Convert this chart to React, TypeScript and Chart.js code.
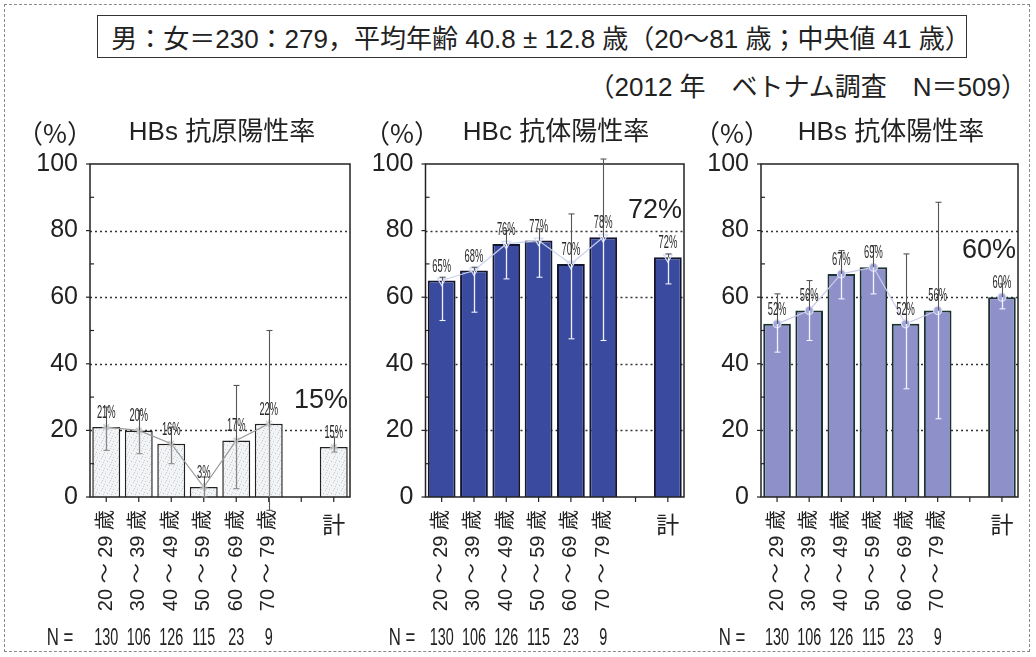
import React, { useEffect, useRef } from 'react';
import { Chart, registerables } from 'chart.js';

Chart.register(...registerables);

const W = 1036;
const H = 657;
const PLOT_TOP = 164;
const PLOT_BOTTOM = 497;

const LATIN = '"Liberation Sans", "Noto Sans CJK JP", sans-serif';
const CJK = '"Noto Sans CJK JP", "Liberation Sans", sans-serif';

// Age bands (a blank slot separates the age groups from the total)
const ageGroups = ['20 ～ 29 歳', '30 ～ 39 歳', '40 ～ 49 歳', '50 ～ 59 歳', '60 ～ 69 歳', '70 ～ 79 歳', '', '計'];
const sampleSizes = ['130', '106', '126', '115', '23', '9'];

// HBs antigen positivity (%), with confidence range
const hbsAgRate = [21, 20, 16, 3, 17, 22, null, 15];
const hbsAgLow = [14, 13, 10, 0, 2.5, -4, null, 13.5];
const hbsAgHigh = [27, 26, 21, 6, 33.5, 50, null, 18];

// HBc antibody positivity (%)
const hbcAbRate = [65, 68, 76, 77, 70, 78, null, 72];
const hbcAbLow = [53, 55.5, 65.5, 66, 47.5, 47, null, 64];
const hbcAbHigh = [66, 69, 80, 80.5, 85, 101.5, null, 73];

// HBs antibody positivity (%)
const hbsAbRate = [52, 56, 67, 69, 52, 56, null, 60];
const hbsAbLow = [43.5, 47, 59.5, 61, 32.5, 23.5, null, 56.5];
const hbsAbHigh = [61, 65, 74, 75.5, 73, 88.5, null, 64];

const gridValues = [20, 40, 60, 80];

type Panel = {
  title: string;
  rate: (number | null)[];
  low: (number | null)[];
  high: (number | null)[];
  left: number;
  right: number;
  titleX: number;
  pctX: number;
  nX: number;
  fill: string | 'stipple';
  border: string;
  borderWidth: number;
  errIn: string;
  errOut: string;
  line: string;
  pointStyle: string;
  pointRadius: number;
  pointRotation: number;
  pointBg: string;
  pointBorder: string;
};

const panels: Panel[] = [
  {
    title: 'HBs 抗原陽性率', rate: hbsAgRate, low: hbsAgLow, high: hbsAgHigh,
    left: 90, right: 350, titleX: 222, pctX: 55, nX: 60,
    fill: 'stipple', border: '#222', borderWidth: 1.5,
    errIn: '#8a8a8a', errOut: '#555', line: '#9a9a9a',
    pointStyle: 'star', pointRadius: 4, pointRotation: 0, pointBg: '#d0d0d0', pointBorder: '#c8c8c8',
  },
  {
    title: 'HBc 抗体陽性率', rate: hbcAbRate, low: hbcAbLow, high: hbcAbHigh,
    left: 425.5, right: 684, titleX: 556, pctX: 402, nX: 402,
    fill: '#3a4b9f', border: '#14162e', borderWidth: 2,
    errIn: '#eef1ff', errOut: '#555', line: '#c8d0ee',
    pointStyle: 'triangle', pointRadius: 5, pointRotation: 180, pointBg: 'rgba(0,0,0,0)', pointBorder: '#d4dbf5',
  },
  {
    title: 'HBs 抗体陽性率', rate: hbsAbRate, low: hbsAbLow, high: hbsAbHigh,
    left: 761, right: 1018, titleX: 891, pctX: 732, nX: 732,
    fill: '#8e91c9', border: '#1b3333', borderWidth: 2,
    errIn: '#f3f3ff', errOut: '#555', line: '#c9cbeb',
    pointStyle: 'circle', pointRadius: 4, pointRotation: 0, pointBg: '#a3a6dc', pointBorder: '#dcdef4',
  },
];

function stipplePattern(): CanvasPattern | string {
  const c = document.createElement('canvas');
  c.width = 8;
  c.height = 8;
  const g = c.getContext('2d');
  if (!g) return '#eef0f2';
  g.fillStyle = '#f1f3f5';
  g.fillRect(0, 0, 8, 8);
  g.fillStyle = '#c4cbd2';
  const dots = [[1, 1], [5, 2], [3, 5], [7, 6], [0, 4], [6, 0]];
  dots.forEach(([x, y]) => g.fillRect(x, y, 1, 1));
  const p = g.createPattern(c, 'repeat');
  return p || '#eef0f2';
}

function text(ctx: CanvasRenderingContext2D, s: string, x: number, y: number, font: string, color: string, align: CanvasTextAlign = 'center', scaleX = 1) {
  ctx.save();
  ctx.font = font;
  ctx.fillStyle = color;
  ctx.textAlign = align;
  ctx.textBaseline = 'middle';
  ctx.translate(x, y);
  ctx.scale(scaleX, 1);
  ctx.fillText(s, 0, 0);
  ctx.restore();
}

function line(ctx: CanvasRenderingContext2D, x1: number, y1: number, x2: number, y2: number, color: string, width: number) {
  ctx.save();
  ctx.strokeStyle = color;
  ctx.lineWidth = width;
  ctx.beginPath();
  ctx.moveTo(x1, y1);
  ctx.lineTo(x2, y2);
  ctx.stroke();
  ctx.restore();
}

function panelPlugin(p: Panel) {
  return {
    id: 'panelDecor',
    beforeDatasetsDraw(chart: any) {
      const { ctx, chartArea } = chart;
      const y = chart.scales.y;
      ctx.save();
      ctx.strokeStyle = '#333';
      ctx.lineWidth = 1.3;
      ctx.setLineDash([2, 3]);
      gridValues.forEach((v) => {
        const py = Math.round(y.getPixelForValue(v)) + 0.5;
        ctx.beginPath();
        ctx.moveTo(chartArea.left, py);
        ctx.lineTo(chartArea.right, py);
        ctx.stroke();
      });
      ctx.restore();
    },
    afterDatasetsDraw(chart: any) {
      const { ctx, chartArea } = chart;
      const xs = chart.scales.x;
      const ys = chart.scales.y;
      const { left, right, top, bottom } = chartArea;

      // plot frame
      ctx.save();
      ctx.strokeStyle = '#222';
      ctx.lineWidth = 1.5;
      ctx.strokeRect(left, top, right - left, bottom - top);
      ctx.restore();

      // y ticks: outward at labelled values, inward at the halves
      for (let v = 0; v <= 100; v += 10) {
        const py = ys.getPixelForValue(v);
        if (v % 20 === 0) line(ctx, left - 4, py, left, py, '#222', 1.2);
        else line(ctx, left, py, left + 4, py, '#222', 1.2);
      }
      // x ticks at category centres
      ageGroups.forEach((_, i) => {
        const px = xs.getPixelForValue(i);
        line(ctx, px, bottom, px, bottom + 5, '#222', 1.2);
      });

      // error bars
      p.rate.forEach((v, i) => {
        const lo = p.low[i];
        const hi = p.high[i];
        if (v == null || lo == null || hi == null) return;
        const px = Math.round(xs.getPixelForValue(i)) + 0.5;
        const pv = ys.getPixelForValue(v);
        const pLo = ys.getPixelForValue(lo);
        const pHi = ys.getPixelForValue(hi);
        const p0 = ys.getPixelForValue(0);
        const inTop = Math.max(pHi, pv);
        const inBottom = Math.min(pLo, p0);
        if (inBottom > inTop) line(ctx, px, inTop, px, inBottom, p.errIn, 1.3);
        if (pHi < pv) line(ctx, px, pHi, px, pv, p.errOut, 1.1);
        if (pLo > p0) line(ctx, px, p0, px, pLo, p.errOut, 1.1);
        line(ctx, px - 3, pHi, px + 3, pHi, pHi < pv ? p.errOut : p.errIn, 1.1);
        line(ctx, px - 3, pLo, px + 3, pLo, pLo > p0 ? p.errOut : p.errIn, 1.1);
      });

      // value labels above the bars
      p.rate.forEach((v, i) => {
        if (v == null) return;
        const px = xs.getPixelForValue(i);
        const py = ys.getPixelForValue(v) - 14;
        text(ctx, `${v}%`, px, py, `18px ${LATIN}`, '#2a2a2a', 'center', 0.52);
      });

      // overall rate, large
      const total = p.rate[p.rate.length - 1] as number;
      text(ctx, `${total}%`, right - 2, ys.getPixelForValue(total) - 47, `27px ${LATIN}`, '#222', 'right');

      // panel heading and unit
      text(ctx, p.title, p.titleX, 133, `26px ${LATIN}`, '#222');
      text(ctx, '（%）', p.pctX, 133, `26px ${CJK}`, '#222');

      // category labels
      ageGroups.forEach((lab, i) => {
        if (!lab) return;
        const px = xs.getPixelForValue(i);
        if (lab === '計') {
          text(ctx, lab, px, 524, `23px ${CJK}`, '#222');
          return;
        }
        ctx.save();
        ctx.translate(px, bottom + 13);
        ctx.rotate(-Math.PI / 2);
        ctx.font = `20px ${LATIN}`;
        ctx.fillStyle = '#222';
        ctx.textAlign = 'right';
        ctx.textBaseline = 'middle';
        ctx.fillText(lab, 0, 0);
        ctx.restore();
      });

      // sample sizes
      text(ctx, 'N =', p.nX, 638, `24px ${LATIN}`, '#222', 'center', 0.7);
      sampleSizes.forEach((n, i) => {
        const px = xs.getPixelForValue(i);
        text(ctx, n, px, 638, `24px ${LATIN}`, '#222', 'center', 0.6);
      });
    },
  };
}

function PanelChart({ panel }: { panel: Panel }) {
  const ref = useRef<HTMLCanvasElement>(null);
  useEffect(() => {
    if (!ref.current) return;
    const fill = panel.fill === 'stipple' ? stipplePattern() : panel.fill;
    const chart = new Chart(ref.current, {
      type: 'bar',
      data: {
        labels: ageGroups,
        datasets: [
          {
            type: 'line',
            data: panel.rate,
            borderColor: panel.line,
            borderWidth: 1.2,
            pointStyle: panel.pointStyle as any,
            pointRadius: panel.pointRadius,
            pointRotation: panel.pointRotation,
            pointBackgroundColor: panel.pointBg,
            pointBorderColor: panel.pointBorder,
            pointBorderWidth: 1.2,
            spanGaps: false,
            clip: false as any,
            order: 0,
          } as any,
          {
            type: 'bar',
            data: panel.rate,
            backgroundColor: fill as any,
            borderColor: panel.border,
            borderWidth: panel.borderWidth,
            barPercentage: 0.86,
            categoryPercentage: 1,
            order: 1,
          } as any,
        ],
      },
      options: {
        responsive: false,
        animation: false,
        devicePixelRatio: 1,
        layout: { padding: { left: 0, top: PLOT_TOP, right: W - panel.right, bottom: H - PLOT_BOTTOM } },
        plugins: { legend: { display: false }, tooltip: { enabled: false } },
        scales: {
          x: {
            grid: { display: false, drawTicks: false },
            border: { display: false },
            ticks: { display: false },
            afterFit: (s: any) => { s.height = 0; },
          },
          y: {
            min: 0,
            max: 100,
            grid: { display: false, drawTicks: false },
            border: { display: false },
            ticks: { stepSize: 20, padding: 12, color: '#222', font: { family: LATIN, size: 25 } },
            afterFit: (s: any) => { s.width = panel.left; },
          },
        },
      },
      plugins: [panelPlugin(panel)],
    });
    return () => chart.destroy();
  }, [panel]);
  return (
    <canvas
      ref={ref}
      width={W}
      height={H}
      style={{ position: 'absolute', left: 0, top: 0, width: W, height: H, display: 'block' }}
    />
  );
}

export default function App() {
  return (
    <div style={{ position: 'absolute', left: 0, top: 0, width: W, height: H, background: '#fff', overflow: 'hidden', fontFamily: LATIN, color: '#222' }}>
      <div style={{ position: 'absolute', left: 4, top: 4, width: 1026, height: 648, border: '1px dashed #8a8a8a', boxSizing: 'border-box' }} />
      <div
        style={{
          position: 'absolute', left: 97, top: 15, width: 870, height: 43, border: '1.5px solid #333',
          boxSizing: 'border-box', display: 'flex', alignItems: 'center', justifyContent: 'center',
          fontSize: 26, whiteSpace: 'nowrap', paddingLeft: 18,
        }}
      >
        男：女＝230：279，平均年齢 40.8 ± 12.8 歳（20～81 歳；中央値 41 歳）
      </div>
      <div style={{ position: 'absolute', right: 9, top: 72, fontSize: 26, lineHeight: '30px', whiteSpace: 'nowrap' }}>
        （2012 年　ベトナム調査　N＝509）
      </div>
      {panels.map((p) => (
        <PanelChart key={p.title + p.left} panel={p} />
      ))}
    </div>
  );
}
